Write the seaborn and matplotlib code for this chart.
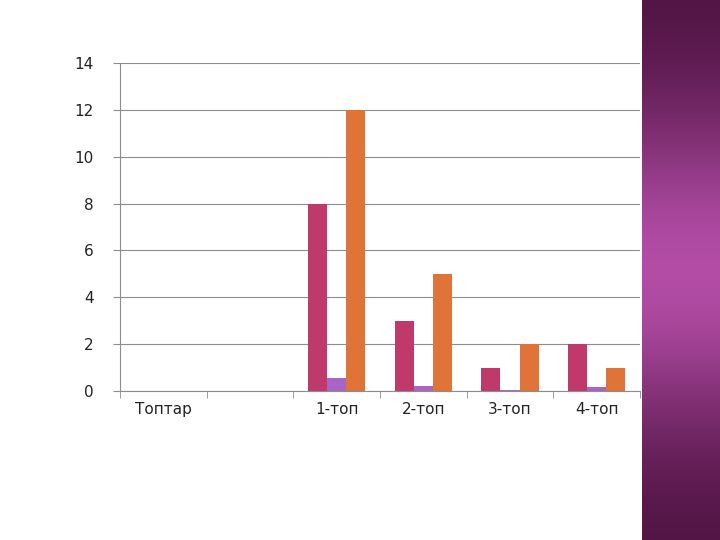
import matplotlib
matplotlib.use("Agg")
import matplotlib.pyplot as plt
import seaborn as sns
import pandas as pd
import numpy as np

categories = ["Топтар", " ", "1-топ", "2-топ", "3-топ", "4-топ"]
series = ["A", "B", "C"]
vals_a = [0, 0, 8, 3, 1, 2]
vals_b = [0, 0, 0.55, 0.2, 0.05, 0.15]
vals_c = [0, 0, 12, 5, 2, 1]
colors = ["#C0396B", "#A865C5", "#E07338"]

rows = []
for s, v in zip(series, [vals_a, vals_b, vals_c]):
    for c, x in zip(categories, v):
        rows.append({"cat": c, "series": s, "val": x})
df = pd.DataFrame(rows)

sns.set_style("white")
fig = plt.figure(figsize=(7.2, 5.4), dpi=100)
ax = fig.add_axes([120/720, 1-391/540, 520/720, 328/540])
sns.barplot(data=df, x="cat", y="val", hue="series", palette=colors, width=0.66,
            saturation=1, ax=ax, legend=False, order=categories, linewidth=0)
ax.set_ylim(0, 14)
ax.set_xlim(-0.5, 5.5)
ax.set_yticks(range(0, 15, 2))
ax.yaxis.grid(True, color="#8c8c8c", lw=0.8)
ax.set_axisbelow(True)
for s in ["top", "right"]:
    ax.spines[s].set_visible(False)
for s in ["left", "bottom"]:
    ax.spines[s].set_color("#8c8c8c")
ax.set_xlabel("")
ax.set_ylabel("")
ax.tick_params(axis="y", left=True, length=5, color="#8c8c8c", labelsize=11, pad=14,
               labelcolor="#222222")
ax.set_xticks(np.arange(-0.5, 6, 1), minor=True)
ax.tick_params(axis="x", which="major", bottom=False, length=0, labelsize=11, pad=8,
               labelcolor="#222222")
ax.tick_params(axis="x", which="minor", bottom=True, length=5, color="#8c8c8c")

# decorative side panel
pax = fig.add_axes([642/720, 0, 78/720, 1])
yy = np.linspace(0, 1, 200)
grad = np.exp(-((yy - 0.5) / 0.3) ** 2)
c1 = np.array([0.30, 0.07, 0.25])
c2 = np.array([0.70, 0.30, 0.65])
img = (c1[None, :] + (c2 - c1)[None, :] * grad[:, None])[:, None, :]
pax.imshow(img, aspect="auto", origin="lower", extent=[0, 1, 0, 1])
pax.axis("off")

fig.savefig("out.png", dpi=100)
